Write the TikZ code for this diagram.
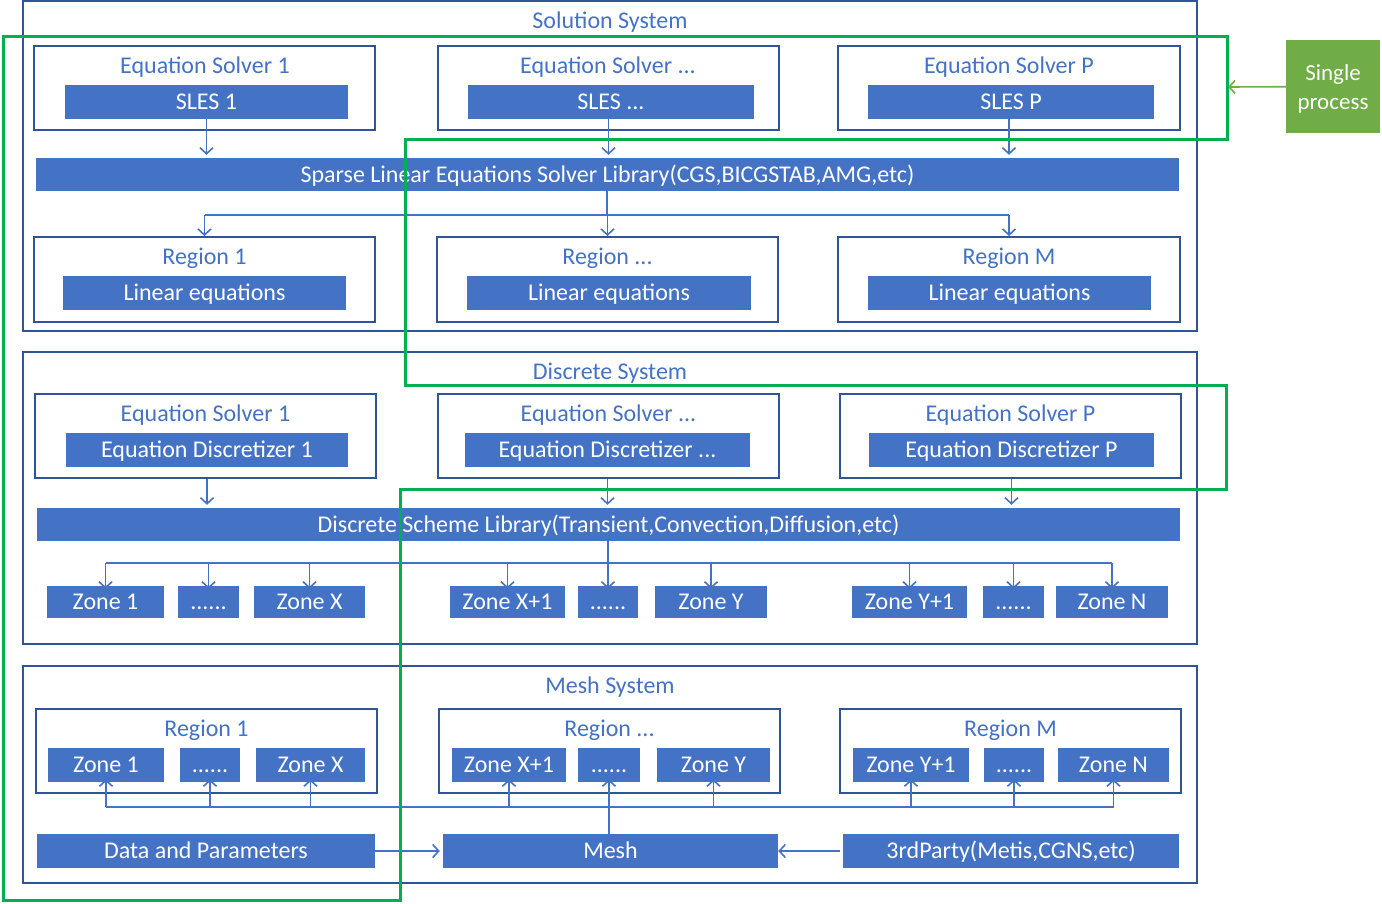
\documentclass[tikz,border=0pt]{standalone}
\usepackage{fontspec}
\setmainfont{Carlito}
\usetikzlibrary{arrows.meta, positioning}

\definecolor{barblue}{HTML}{4472C4}
\definecolor{edgeblue}{HTML}{2F5597}
\definecolor{procgreen}{HTML}{00B050}
\definecolor{leafgreen}{HTML}{70AD47}

\tikzset{
  sysbox/.style={draw=edgeblue, line width=2pt, inner sep=0pt},
  bar/.style={fill=barblue, text=white, inner sep=0pt, text height=19pt, text depth=4pt,
              font=\fontsize{24}{26}\selectfont},
  heading/.style={text=barblue, inner sep=0pt, text height=19pt, text depth=4pt,
                  font=\fontsize{24}{26}\selectfont},
  wire/.style={barblue, line width=1.6pt},
  link/.style={wire, -{Straight Barb[length=6pt, width=13pt, line width=1.6pt]}},
}

\begin{document}
\begin{tikzpicture}[x=1pt, y=-1pt]
    \useasboundingbox (0,0) rectangle (1382,903);

    % Solution System
    \node[sysbox, minimum width=1174pt, minimum height=330pt] (solsys) at (610,166) {};
    \node[heading] (solsyst) at (610,21) {Solution System};

    \node[sysbox, minimum width=341pt, minimum height=84pt] (ses1) at (204.5,88) {};
    \node[sysbox, minimum width=341pt, minimum height=84pt] (sesx) at (608.5,88) {};
    \node[sysbox, minimum width=342pt, minimum height=84pt] (sesp) at (1009,88) {};
    \node[heading] (ses1t) at (205,66) {Equation Solver 1};
    \node[heading] (sesxt) at (608,66) {Equation Solver ...};
    \node[heading] (sespt) at (1009,66) {Equation Solver P};
    \node[bar, minimum width=283pt, minimum height=34pt] (sles1) at (206.5,102) {SLES 1};
    \node[bar, minimum width=286pt, minimum height=34pt] (slesx) at (611,102) {SLES ...};
    \node[bar, minimum width=286pt, minimum height=34pt] (slesp) at (1011,102) {SLES P};

    \node[bar, minimum width=1143pt, minimum height=33pt] (sparse) at (607.5,174.5)
        {Sparse Linear Equations Solver Library(CGS,BICGSTAB,AMG,etc)};

    \node[sysbox, minimum width=341pt, minimum height=85pt] (sreg1) at (204.5,279.5) {};
    \node[sysbox, minimum width=341pt, minimum height=85pt] (sregx) at (607.5,279.5) {};
    \node[sysbox, minimum width=342pt, minimum height=85pt] (sregm) at (1009,279.5) {};
    \node[heading] (sreg1t) at (204.5,257) {Region 1};
    \node[heading] (sregxt) at (607.5,257) {Region ...};
    \node[heading] (sregmt) at (1009,257) {Region M};
    \node[bar, minimum width=283pt, minimum height=34pt] (lin1) at (204.5,293) {Linear equations};
    \node[bar, minimum width=284pt, minimum height=34pt] (linx) at (609,293) {Linear equations};
    \node[bar, minimum width=283pt, minimum height=34pt] (linm) at (1009.5,293) {Linear equations};

    \draw[link] (sles1.south) -- ([yshift=3pt]sles1.south |- sparse.north);
    \draw[link] (slesx.south -| sesx) -- ([yshift=3pt]sesx |- sparse.north);
    \draw[link] (slesp.south -| sesp) -- ([yshift=3pt]sesp |- sparse.north);

    \coordinate (sfork) at (607,215);
    \draw[wire] (sparse.south -| sfork) -- (sfork);
    \draw[wire] (sreg1.north |- sfork) -- (sregm.north |- sfork);
    \draw[link] (sreg1.north |- sfork) -- (sreg1.north);
    \draw[link] (sregx.north |- sfork) -- (sregx.north);
    \draw[link] (sregm.north |- sfork) -- (sregm.north);

    % Discrete System
    \node[sysbox, minimum width=1174pt, minimum height=292pt] (dissys) at (610,498) {};
    \node[heading] (dissyst) at (610,372) {Discrete System};

    \node[sysbox, minimum width=341pt, minimum height=84pt] (des1) at (205.5,436) {};
    \node[sysbox, minimum width=341pt, minimum height=84pt] (desx) at (608.5,436) {};
    \node[sysbox, minimum width=341pt, minimum height=84pt] (desp) at (1010.5,436) {};
    \node[heading] (des1t) at (205.5,414) {Equation Solver 1};
    \node[heading] (desxt) at (608.5,414) {Equation Solver ...};
    \node[heading] (despt) at (1010.5,414) {Equation Solver P};
    \node[bar, minimum width=282pt, minimum height=34pt] (disc1) at (207,450) {Equation Discretizer 1};
    \node[bar, minimum width=285pt, minimum height=34pt] (discx) at (607.5,450) {Equation Discretizer ...};
    \node[bar, minimum width=285pt, minimum height=34pt] (discp) at (1011.5,450) {Equation Discretizer P};

    \node[bar, minimum width=1143pt, minimum height=33pt] (scheme) at (608.5,524.5)
        {Discrete Scheme Library(Transient,Convection,Diffusion,etc)};

    \draw[link] (disc1.south |- des1.south) -- ([yshift=3pt]disc1.south |- scheme.north);
    \draw[link] (discx.south |- desx.south) -- ([yshift=3pt]discx.south |- scheme.north);
    \draw[link] (discp.south |- desp.south) -- ([yshift=3pt]discp.south |- scheme.north);

    % zones fed by the scheme library
    \node[bar, minimum width=117pt, minimum height=32pt] (dz1) at (105.5,602) {Zone 1};
    \node[bar, minimum width=61pt, minimum height=32pt] (dz2) at (208.5,602) {......};
    \node[bar, minimum width=111pt, minimum height=32pt] (dz3) at (309.5,602) {Zone X};
    \node[bar, minimum width=115pt, minimum height=32pt] (dz4) at (507.5,602) {Zone X+1};
    \node[bar, minimum width=60pt, minimum height=32pt] (dz5) at (608,602) {......};
    \node[bar, minimum width=112pt, minimum height=32pt] (dz6) at (711,602) {Zone Y};
    \node[bar, minimum width=115pt, minimum height=32pt] (dz7) at (909.5,602) {Zone Y+1};
    \node[bar, minimum width=61pt, minimum height=32pt] (dz8) at (1013.5,602) {......};
    \node[bar, minimum width=112pt, minimum height=32pt] (dz9) at (1112,602) {Zone N};

    \coordinate (dfork) at (608,563);
    \draw[wire] (scheme.south -| dfork) -- (dfork);
    \draw[wire] (dz1.north |- dfork) -- (dz9.north |- dfork);
    \foreach \z in {dz1,dz2,dz3,dz4,dz5,dz6,dz7,dz8,dz9}
        \draw[link] (\z.north |- dfork) -- ([yshift=-3pt]\z.north);

    % Mesh System
    \node[sysbox, minimum width=1174pt, minimum height=217pt] (mshsys) at (610,774.5) {};
    \node[heading] (mshsyst) at (610,686) {Mesh System};

    \node[sysbox, minimum width=341pt, minimum height=84pt] (mreg1) at (206.5,751) {};
    \node[sysbox, minimum width=341pt, minimum height=84pt] (mregx) at (609.5,751) {};
    \node[sysbox, minimum width=341pt, minimum height=84pt] (mregm) at (1010.5,751) {};
    \node[heading] (mreg1t) at (206.5,729) {Region 1};
    \node[heading] (mregxt) at (609.5,729) {Region ...};
    \node[heading] (mregmt) at (1010.5,729) {Region M};

    \node[bar, minimum width=116pt, minimum height=34pt] (mz1) at (106,765) {Zone 1};
    \node[bar, minimum width=60pt, minimum height=34pt] (mz2) at (210,765) {......};
    \node[bar, minimum width=109pt, minimum height=34pt] (mz3) at (310.5,765) {Zone X};
    \node[bar, minimum width=114pt, minimum height=34pt] (mz4) at (509,765) {Zone X+1};
    \node[bar, minimum width=62pt, minimum height=34pt] (mz5) at (609,765) {......};
    \node[bar, minimum width=113pt, minimum height=34pt] (mz6) at (713.5,765) {Zone Y};
    \node[bar, minimum width=116pt, minimum height=34pt] (mz7) at (911,765) {Zone Y+1};
    \node[bar, minimum width=60pt, minimum height=34pt] (mz8) at (1014,765) {......};
    \node[bar, minimum width=111pt, minimum height=34pt] (mz9) at (1113.5,765) {Zone N};

    \node[bar, minimum width=338pt, minimum height=34pt] (data) at (206,851) {Data and Parameters};
    \node[bar, minimum width=335pt, minimum height=34pt] (mesh) at (610.5,851) {Mesh};
    \node[bar, minimum width=336pt, minimum height=34pt] (third) at (1011,851) {3rdParty(Metis,CGNS,etc)};

    \draw[link] (data) -- ([xshift=-3pt]mesh.west);
    \draw[link] ([xshift=-3pt]third.west) -- (mesh);

    \coordinate (mfork) at (609,807);
    \draw[wire] (mesh.north -| mfork) -- (mfork);
    \draw[wire] (mz1.south |- mfork) -- (mz9.south |- mfork);
    \foreach \z in {mz1,mz2,mz3,mz4,mz5,mz6,mz7,mz8,mz9}
        \draw[link] (\z.south |- mfork) -- ([yshift=3pt]\z.south);

    % Single process
    \node[fill=leafgreen, inner sep=0pt, minimum width=94pt, minimum height=93pt]
        (single) at (1333,86.5) {};
    \node[text=white, align=center, inner sep=0pt, font=\fontsize{23}{29}\selectfont]
        (singlet) at (1333,89) {Single\\process};
    \coordinate (procedge) at (1228,87);
    \draw[leafgreen, line width=1.6pt, -{Straight Barb[length=6pt, width=13pt, line width=1.6pt]}]
        (single) -- (procedge);

    % Process outline
    \draw[procgreen, line width=3pt]
        (3,36) -- (1227,36) -- (1227,139) -- (405,139) -- (405,385) -- (1226,385)
        -- (1226,489) -- (400,489) -- (400,900) -- (3,900) -- cycle;
\end{tikzpicture}
\end{document}
